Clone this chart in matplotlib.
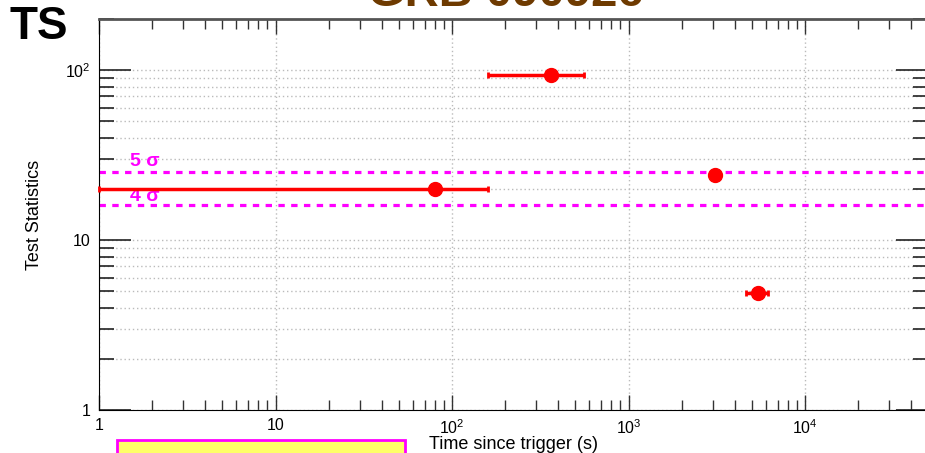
import matplotlib
matplotlib.use('Agg')
import matplotlib.pyplot as plt
from matplotlib.patches import Rectangle
import numpy as np

plt.rcParams['font.family'] = ['Liberation Sans', 'DejaVu Sans']
plt.rcParams['mathtext.fontset'] = 'custom'
plt.rcParams['mathtext.rm'] = 'Liberation Sans'
plt.rcParams['mathtext.it'] = 'Liberation Sans:italic'

# detections: time since trigger (s) and test statistic
t_mid = [80, 364, 3070, 5450]
t_lo = [1, 160, 2950, 4600]
t_hi = [160, 560, 3180, 6170]
ts = [20.1, 93.4, 24.3, 4.9]

# significance thresholds
sig_levels = [25, 16]
sig_labels = ['5 σ', '4 σ']
sig_label_y = [27.2, 16.9]

xticks = [1, 10, 100, 1000, 10000]
xticklabels = ['1', '10', '$10^{2}$', '$10^{3}$', '$10^{4}$']
yticks = [1, 10, 100]
yticklabels = ['1', '10', '$10^{2}$']

W, H = 925, 453
fig = plt.figure(figsize=(W / 100, H / 100), dpi=100)
ax = fig.add_axes([99 / W, 43 / H, (928.4 - 99) / W, 391 / H])
ax.set_xscale('log')
ax.set_yscale('log')
ax.set_xlim(1, 5e4)
ax.set_ylim(1, 200)

# grid: vertical at decades only, horizontal at all y ticks
ax.set_xticks(xticks)
ax.set_xticklabels(xticklabels, fontsize=11.5)
ax.set_yticks(yticks)
ax.set_yticklabels(yticklabels, fontsize=11.5)
ax.xaxis.set_minor_locator(matplotlib.ticker.LogLocator(base=10, subs=np.arange(2, 10)))
ax.yaxis.set_minor_locator(matplotlib.ticker.LogLocator(base=10, subs=np.arange(2, 10)))
ax.xaxis.set_minor_formatter(matplotlib.ticker.NullFormatter())
ax.yaxis.set_minor_formatter(matplotlib.ticker.NullFormatter())
ax.grid(True, which='major', axis='both', color='#bbbbbb', linestyle=(0, (1, 2)), linewidth=1)
ax.grid(True, which='minor', axis='y', color='#bbbbbb', linestyle=(0, (1, 2)), linewidth=1)
ax.set_axisbelow(True)

ax.tick_params(axis='x', which='major', direction='in', top=True, length=11, width=1, pad=6, color='#333333')
ax.tick_params(axis='x', which='minor', direction='in', top=True, length=7, width=1, color='#333333')
ax.tick_params(axis='y', which='major', direction='in', right=True, length=23, width=1.2, pad=6, color='#222222')
ax.tick_params(axis='y', which='minor', direction='in', right=True, length=11, width=1.2, color='#222222')

for side in ['top', 'right']:
    ax.spines[side].set_color('#555555')
    ax.spines[side].set_linewidth(2)
ax.spines['left'].set_color('black')
ax.spines['bottom'].set_color('black')
ax.spines['bottom'].set_linestyle((0, (2, 1)))

# threshold lines
for lvl, lab, ly in zip(sig_levels, sig_labels, sig_label_y):
    ax.axhline(lvl, color='#ff00ff', linestyle=(0, (2, 2)), linewidth=2.3, zorder=2)
    ax.text(1.5, ly, lab, color='#ff00ff', fontsize=14, fontweight='bold', va='baseline', ha='left')

# data points
xerr = [np.array(t_mid) - np.array(t_lo), np.array(t_hi) - np.array(t_mid)]
ax.errorbar(t_mid, ts, xerr=xerr, fmt='o', color='red', ms=10, elinewidth=2.5,
            capsize=2.5, capthick=2, zorder=3, clip_on=False)

ax.set_xlabel('Time since trigger (s)', fontsize=13, labelpad=-1)
ax.set_ylabel('Test Statistics', fontsize=13, labelpad=16)

fig.text(10 / W, 1 - 39 / H, 'TS', fontsize=33, fontweight='bold', color='black', va='baseline', ha='left')
fig.text(506 / W, 1 - 6 / H, 'GRB 090926', fontsize=34, fontweight='bold', color='#6e3a00',
         va='baseline', ha='center')

fig.patches.append(Rectangle((117 / W, -0.05), 288 / W, 0.05 + 13 / H, transform=fig.transFigure,
                             facecolor='#ffff66', edgecolor='#ff00ff', linewidth=2))

fig.savefig('out.png', dpi=100)
